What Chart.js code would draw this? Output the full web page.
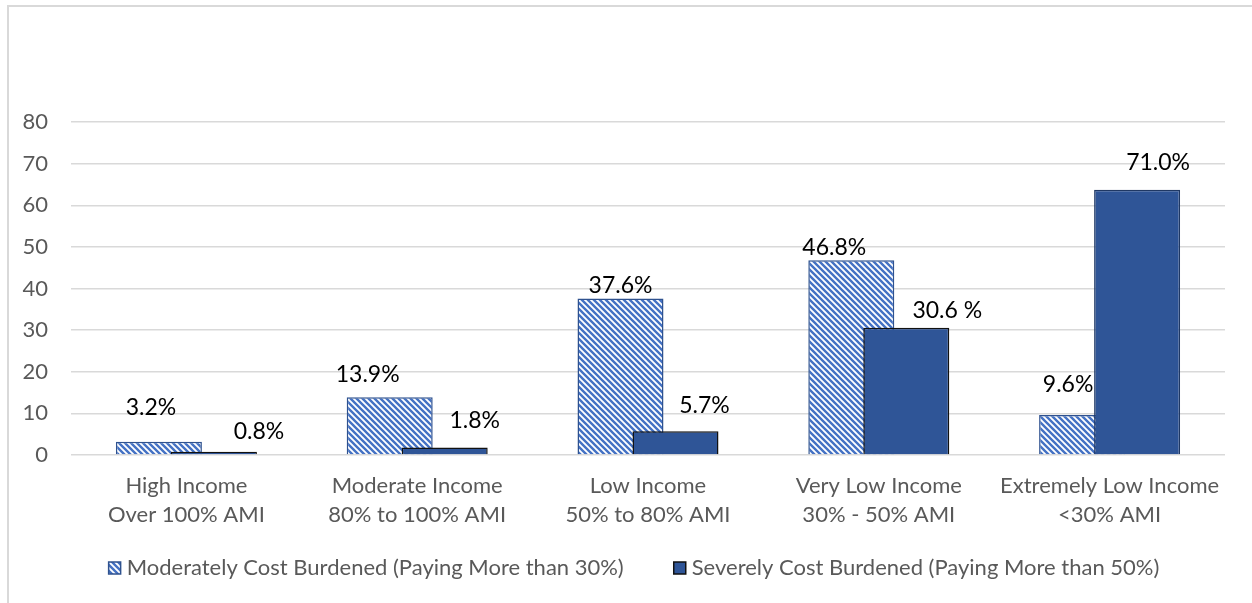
<!DOCTYPE html>
<html>
<head>
<meta charset="utf-8">
<script src="https://cdn.jsdelivr.net/npm/chart.js@4/dist/chart.umd.min.js"></script>
<style>
  html, body { margin: 0; padding: 0; background: #fff; }
  .frame { position: absolute; left: 7px; top: 5px; width: 1400px; height: 800px;
           border-left: 2px solid #d9d9d9; border-top: 2px solid #d9d9d9; }
  .chart-wrap { position: absolute; left: 0; top: 0; width: 1252px; height: 603px; }
</style>
</head>
<body>
<div class="frame"></div>
<div class="chart-wrap"><canvas id="chart" width="1252" height="603"></canvas></div>
<script>
const categories = [
  ["High Income", "Over 100% AMI"],
  ["Moderate Income", "80% to 100% AMI"],
  ["Low Income", "50% to 80% AMI"],
  ["Very Low Income", "30% - 50% AMI"],
  ["Extremely Low Income", "<30% AMI"]
];
const moderateValues = [3.2, 13.9, 37.6, 46.8, 9.6];
const severeValues = [0.8, 1.8, 5.7, 30.6, 63.7];
const moderateLabels = ["3.2%", "13.9%", "37.6%", "46.8%", "9.6%"];
const severeLabels = ["0.8%", "1.8%", "5.7%", "30.6 %", "71.0%"];
const seriesNames = [
  "Moderately Cost Burdened (Paying More than 30%)",
  "Severely Cost Burdened (Paying More than 50%)"
];
const yMin = 0, yMax = 80, yStep = 10;

// label nudges (px) so the value labels sit where the original has them
const moderateNudge = [[-8, -34], [-22, -23], [0, -13], [-17, -13], [-14, -30]];
const severeNudge = [[45, -20], [30, -27], [29, -26], [41, -17], [21, -27]];

const FONT = "Lato, 'Open Sans', sans-serif";
Chart.defaults.font.family = FONT;

function hatch() {
  const c = document.createElement("canvas");
  c.width = 6; c.height = 6;
  const g = c.getContext("2d");
  g.fillStyle = "#fff";
  g.fillRect(0, 0, 6, 6);
  g.strokeStyle = "#4472c4";
  g.lineWidth = 2.4;
  g.beginPath();
  g.moveTo(-1, -1); g.lineTo(7, 7);
  g.moveTo(-4, 2); g.lineTo(4, 10);
  g.moveTo(2, -4); g.lineTo(10, 4);
  g.stroke();
  return g.createPattern(c, "repeat");
}

// draw the second series on top of the first where they overlap
const drawOrder = {
  id: "drawOrder",
  beforeDatasetDraw(chart, args) {
    if (args.index === 1) return false;
  },
  afterDatasetDraw(chart, args) {
    if (args.index === 0) chart.getDatasetMeta(1).controller.draw();
  }
};

const valueLabels = {
  id: "valueLabels",
  afterDatasetsDraw(chart) {
    const ctx = chart.ctx;
    ctx.save();
    ctx.font = "23px " + FONT;
    ctx.fillStyle = "#000";
    ctx.textAlign = "center";
    ctx.textBaseline = "middle";
    [[moderateLabels, moderateNudge], [severeLabels, severeNudge]].forEach(([texts, nudge], di) => {
      chart.getDatasetMeta(di).data.forEach((bar, i) => {
        ctx.fillText(texts[i], bar.x + nudge[i][0], bar.y + nudge[i][1]);
      });
    });
    ctx.restore();
  }
};

// legend drawn under the axis, like the original (box, small gap, text, wide gap)
const bottomLegend = {
  id: "bottomLegend",
  afterDraw(chart, args, opts) {
    const ctx = chart.ctx;
    const sets = chart.data.datasets;
    ctx.save();
    ctx.font = opts.size + "px " + FONT;
    const widths = sets.map(ds => opts.box + opts.textGap + ctx.measureText(ds.label).width);
    const total = widths.reduce((a, b) => a + b, 0) + opts.itemGap * (sets.length - 1);
    let x = opts.centerX - total / 2;
    const y = opts.centerY;
    sets.forEach((ds, i) => {
      const bc = Array.isArray(ds.borderColor) ? ds.borderColor[0] : ds.borderColor;
      ctx.fillStyle = ds.backgroundColor;
      ctx.fillRect(x, y - opts.box / 2, opts.box, opts.box);
      ctx.lineWidth = 1.5;
      ctx.strokeStyle = bc;
      ctx.strokeRect(x, y - opts.box / 2, opts.box, opts.box);
      ctx.fillStyle = "#595959";
      ctx.textAlign = "left";
      ctx.textBaseline = "middle";
      ctx.fillText(ds.label, x + opts.box + opts.textGap, y);
      x += widths[i] + opts.itemGap;
    });
    ctx.restore();
  }
};

new Chart(document.getElementById("chart"), {
  type: "bar",
  data: {
    labels: categories,
    datasets: [
      {
        label: seriesNames[0],
        data: moderateValues,
        backgroundColor: hatch(),
        borderColor: "#2f528f",
        borderWidth: 1.5,
        categoryPercentage: 0.4766,
        barPercentage: 1.5636
      },
      {
        label: seriesNames[1],
        data: severeValues,
        backgroundColor: "#2f5597",
        borderColor: ["#111", "#111", "#111", "#111", "#1f3864"],
        borderWidth: 1.5,
        categoryPercentage: 0.4766,
        barPercentage: 1.5636
      }
    ]
  },
  options: {
    responsive: false,
    animation: false,
    layout: { padding: { left: 0, right: 27, top: 122, bottom: 68 } },
    plugins: {
      tooltip: { enabled: false },
      legend: { display: false },
      bottomLegend: { size: 22, box: 12, textGap: 6, itemGap: 50, centerX: 634, centerY: 568 }
    },
    scales: {
      x: {
        grid: { display: false, drawTicks: false },
        border: { display: false },
        ticks: { color: "#595959", font: { size: 22, lineHeight: 1.32 }, padding: 16, maxRotation: 0, autoSkip: false },
        afterFit(scale) { scale.height = 80; }
      },
      y: {
        min: yMin,
        max: yMax,
        grid: { color: "#d9d9d9", lineWidth: 1.5, drawTicks: false },
        border: { display: false },
        ticks: { stepSize: yStep, color: "#595959", font: { size: 22 }, padding: 23 },
        afterFit(scale) { scale.width = 71; }
      }
    }
  },
  plugins: [drawOrder, valueLabels, bottomLegend]
});
</script>
</body>
</html>
